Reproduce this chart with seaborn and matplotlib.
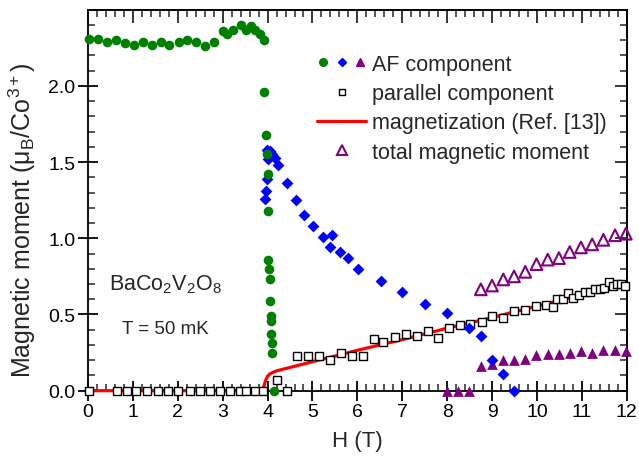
import numpy as np
import pandas as pd
import matplotlib
matplotlib.use("Agg")
import matplotlib.pyplot as plt
import seaborn as sns
from matplotlib.ticker import MultipleLocator, FixedLocator
from matplotlib.legend_handler import HandlerTuple
from matplotlib.lines import Line2D

# ---------------- data ----------------
af_circle_H = [0.02, 0.23, 0.43, 0.62, 0.82, 1.02, 1.22, 1.42, 1.62, 1.81, 2.02, 2.21, 2.41,
               2.61, 2.81, 3.01, 3.10, 3.22, 3.41, 3.52, 3.62, 3.73, 3.83, 3.92,
               3.92, 3.96, 3.98, 4.00, 4.02, 4.02, 4.04, 4.05, 4.06, 4.07, 4.07, 4.08, 4.10, 4.10, 4.15]
af_circle_M = [2.31, 2.31, 2.29, 2.30, 2.28, 2.27, 2.29, 2.27, 2.29, 2.27, 2.29, 2.30, 2.29,
               2.26, 2.29, 2.36, 2.34, 2.37, 2.40, 2.37, 2.39, 2.37, 2.34, 2.30,
               1.96, 1.68, 1.55, 1.42, 1.18, 0.86, 0.80, 0.73, 0.59, 0.49, 0.46, 0.37, 0.31, 0.25, 0.00]

af_diamond_H = [3.99, 4.05, 4.10, 4.16, 4.24, 4.02, 3.99, 3.97, 3.95, 4.43, 4.63, 4.81, 5.02,
                5.23, 5.43, 5.40, 5.61, 5.80, 6.01, 6.52, 7.00, 7.51, 8.00, 8.49, 8.75,
                8.99, 9.25, 9.49]
af_diamond_M = [1.58, 1.57, 1.55, 1.53, 1.48, 1.52, 1.39, 1.31, 1.26, 1.36, 1.25, 1.15, 1.08,
                1.01, 1.02, 0.94, 0.91, 0.87, 0.80, 0.72, 0.65, 0.57, 0.51, 0.41, 0.36,
                0.20, 0.11, 0.00]

af_triangle_H = [7.99, 8.25, 8.49, 8.75, 9.00, 9.25, 9.49, 9.74, 9.99, 10.24, 10.49, 10.73,
                 10.98, 11.23, 11.48, 11.74, 11.98]
af_triangle_M = [0.00, 0.00, 0.00, 0.165, 0.175, 0.20, 0.20, 0.21, 0.235, 0.24, 0.24, 0.25,
                 0.26, 0.25, 0.27, 0.27, 0.26]

par_H = [0.03, 0.64, 0.86, 1.07, 1.31, 1.57, 1.79, 2.01, 2.27, 2.49, 2.72, 2.94, 3.16, 3.39,
         3.53, 3.72, 3.90, 4.20, 4.44, 4.66, 4.91, 5.15, 5.39, 5.63, 5.87, 6.12, 6.36, 6.58,
         6.84, 7.08, 7.32, 7.57, 7.80, 8.05, 8.29, 8.52, 8.77, 9.01, 9.25, 9.49, 9.73, 9.97,
         10.21, 10.35, 10.44, 10.57, 10.70, 10.81, 10.94, 11.07, 11.19, 11.29, 11.40, 11.49,
         11.61, 11.70, 11.79, 11.88, 11.96]
par_M = [0.0, 0.0, 0.0, 0.0, 0.0, 0.0, 0.0, 0.0, 0.0, 0.0, 0.0, 0.0, 0.0, 0.0,
         0.0, 0.0, 0.0, 0.07, 0.0, 0.226, 0.226, 0.226, 0.20, 0.25, 0.226, 0.226, 0.34, 0.32,
         0.35, 0.37, 0.36, 0.39, 0.345, 0.41, 0.43, 0.44, 0.45, 0.49, 0.48, 0.52, 0.53, 0.555,
         0.565, 0.55, 0.60, 0.60, 0.64, 0.61, 0.625, 0.65, 0.65, 0.665, 0.67, 0.675,
         0.71, 0.69, 0.70, 0.70, 0.69]

mag_H = [0.0, 3.80, 3.87, 3.92, 3.96, 4.00, 4.05, 4.12, 4.20, 5.0, 6.0, 7.0, 8.0, 9.0, 10.0, 11.0, 12.0]
mag_M = [0.0, 0.0, 0.005, 0.03, 0.07, 0.095, 0.11, 0.12, 0.13, 0.19, 0.265, 0.335, 0.41,
         0.48, 0.555, 0.63, 0.70]

tot_H = [8.75, 9.00, 9.25, 9.49, 9.74, 9.99, 10.24, 10.49, 10.73, 10.98, 11.23, 11.48, 11.74, 11.98]
tot_M = [0.665, 0.69, 0.73, 0.75, 0.78, 0.83, 0.86, 0.87, 0.91, 0.94, 0.96, 0.99, 1.02, 1.03]

y_tick_values = [0.0, 0.5, 1.0, 1.5, 2.0]
legend_labels = ["AF component", "parallel component", "magnetization (Ref. [13])",
                 "total magnetic moment"]

# ---------------- style ----------------
sns.set_style("ticks")
plt.rcParams['font.family'] = ['Liberation Sans', 'DejaVu Sans']
plt.rcParams['mathtext.fontset'] = 'custom'
plt.rcParams['mathtext.rm'] = 'Liberation Sans'
plt.rcParams['mathtext.it'] = 'Liberation Sans:italic'
plt.rcParams['mathtext.bf'] = 'Liberation Sans:bold'

GREEN = '#008000'
BLUE = '#0000FF'
PURPLE = '#800080'
RED = '#FF0000'

fig = plt.figure(figsize=(6.39, 4.60), dpi=100)
ax = fig.add_axes([0.1377, 0.1485, 0.8431, 0.8282])

sns.lineplot(data=pd.DataFrame({'H': mag_H, 'M': mag_M}), x='H', y='M', color=RED,
             linewidth=2.3, ax=ax, zorder=3, clip_on=False, sort=False)
sns.scatterplot(data=pd.DataFrame({'H': par_H, 'M': par_M}), x='H', y='M', marker='s', s=30,
                facecolor='white', edgecolor='black', linewidth=1.0, ax=ax, zorder=4, clip_on=False)
sns.scatterplot(data=pd.DataFrame({'H': tot_H, 'M': tot_M}), x='H', y='M', marker='^', s=70,
                facecolor='none', edgecolor=PURPLE, linewidth=1.5, ax=ax, zorder=4, clip_on=False)
sns.scatterplot(data=pd.DataFrame({'H': af_triangle_H, 'M': af_triangle_M}), x='H', y='M',
                marker='^', s=60, color=PURPLE, linewidth=0, ax=ax, zorder=5, clip_on=False)
sns.scatterplot(data=pd.DataFrame({'H': af_diamond_H, 'M': af_diamond_M}), x='H', y='M',
                marker='D', s=36, color=BLUE, linewidth=0, ax=ax, zorder=5, clip_on=False)
sns.scatterplot(data=pd.DataFrame({'H': af_circle_H, 'M': af_circle_M}), x='H', y='M',
                marker='o', s=48, color=GREEN, linewidth=0, ax=ax, zorder=6, clip_on=False)

ax.set_xlim(0, 12)
ax.set_ylim(0, 2.5)
ax.xaxis.set_major_locator(MultipleLocator(1))
ax.xaxis.set_minor_locator(MultipleLocator(0.2))
ax.yaxis.set_major_locator(FixedLocator(y_tick_values))
ax.yaxis.set_minor_locator(MultipleLocator(0.1))
ax.yaxis.set_major_formatter(matplotlib.ticker.FormatStrFormatter('%.1f'))

for sp in ax.spines.values():
    sp.set_linewidth(1.3)
    sp.set_color('black')

ax.tick_params(axis='both', which='major', direction='inout', length=14, width=1.3,
               labelsize=14, colors='black', pad=2)
ax.tick_params(axis='both', which='minor', direction='in', length=5, width=1.1)

# top / right ticks pointing inward
secx = ax.secondary_xaxis('top')
secx.xaxis.set_major_locator(MultipleLocator(1))
secx.xaxis.set_minor_locator(MultipleLocator(0.2))
secx.tick_params(which='major', direction='in', length=9, width=1.3, labeltop=False)
secx.tick_params(which='minor', direction='in', length=5, width=1.1)
secx.spines['top'].set_linewidth(1.3)
secy = ax.secondary_yaxis('right')
secy.yaxis.set_major_locator(FixedLocator(y_tick_values))
secy.yaxis.set_minor_locator(MultipleLocator(0.1))
secy.tick_params(which='major', direction='in', length=9, width=1.3, labelright=False)
secy.tick_params(which='minor', direction='in', length=5, width=1.1)
secy.spines['right'].set_linewidth(1.3)

ax.set_xlabel('H (T)', fontsize=16, labelpad=7)
ax.set_ylabel('Magnetic moment (μ$_\\mathrm{B}$/Co$^{3+}$)', fontsize=18, labelpad=4)
ax.yaxis.set_label_coords(-0.093, 0.45)

ax.text(1.72, 0.70, 'BaCo$_2$V$_2$O$_8$', fontsize=15.5, ha='center', va='center')
ax.text(1.72, 0.41, 'T = 50 mK', fontsize=13.5, ha='center', va='center')

# legend
h_g = Line2D([], [], marker='o', color=GREEN, linestyle='none', markersize=5.5)
h_b = Line2D([], [], marker='D', color=BLUE, linestyle='none', markersize=4.5)
h_p = Line2D([], [], marker='^', color=PURPLE, linestyle='none', markersize=6)
h_s = Line2D([], [], marker='s', markerfacecolor='white', markeredgecolor='black',
             linestyle='none', markersize=5, markeredgewidth=1)
h_l = Line2D([], [], color=RED, linewidth=2.3)
h_t = Line2D([], [], marker='^', markerfacecolor='none', markeredgecolor=PURPLE,
             linestyle='none', markersize=6.5, markeredgewidth=1.5)
leg = ax.legend([(h_g, h_b, h_p), h_s, h_l, h_t], legend_labels,
                handler_map={tuple: HandlerTuple(ndivide=None, pad=0.3)},
                loc='upper left', bbox_to_anchor=(0.418, 0.895), frameon=False,
                fontsize=15.5, handlelength=2.25, handletextpad=0.3, labelspacing=0.38,
                borderpad=0.2, borderaxespad=0)

fig.savefig('out.png', dpi=100)
